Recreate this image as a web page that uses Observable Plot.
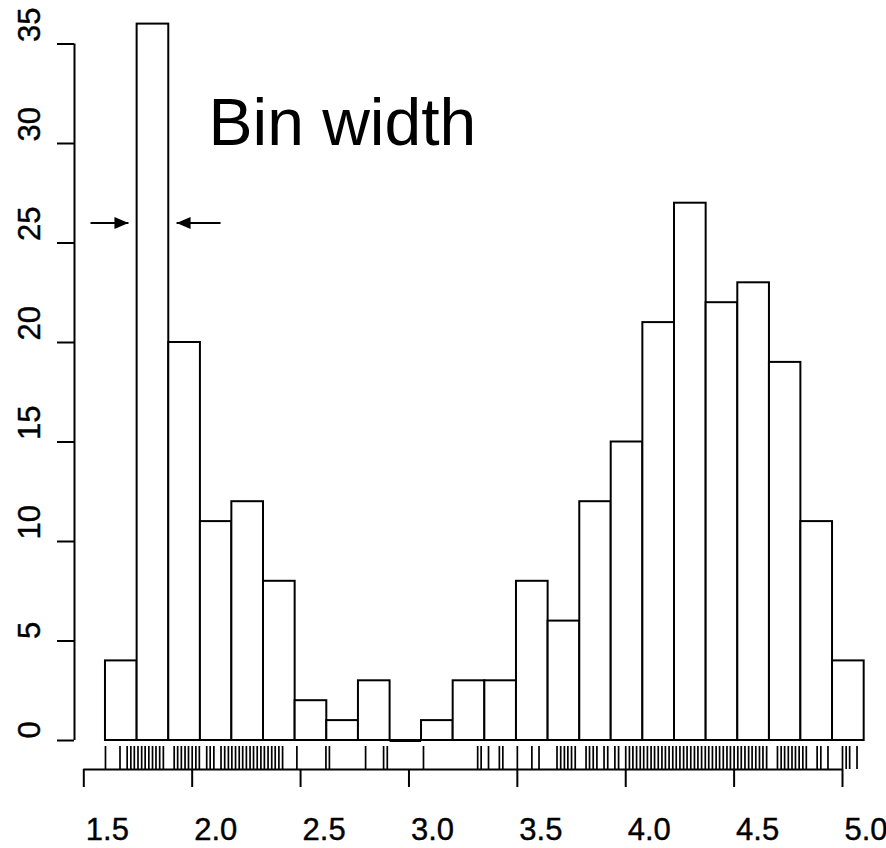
<!DOCTYPE html>
<html>
<head>
<meta charset="utf-8">
<script src="https://cdn.jsdelivr.net/npm/d3@7"></script>
<script src="https://cdn.jsdelivr.net/npm/@observablehq/plot@0.6"></script>
<style>
  html, body { margin: 0; padding: 0; background: #ffffff; }
  #chart { width: 886px; height: 848px; }
</style>
</head>
<body>
<div id="chart"></div>
<script>
// Histogram bin edges (eruption duration, minutes)
const breaks = [1.600, 1.746, 1.892, 2.038, 2.183, 2.329, 2.475, 2.621, 2.767, 2.913,
                3.058, 3.204, 3.350, 3.496, 3.642, 3.788, 3.933, 4.079, 4.225, 4.371,
                4.517, 4.663, 4.808, 4.954, 5.100];
// Frequency of each bin
const counts = [4, 36, 20, 11, 12, 8, 2, 1, 3, 0, 1, 3, 3, 8, 6, 12, 15, 21, 27, 22, 23, 19, 11, 4];

// Rug: observed eruption values (distinct values read from the rug)
const rugValues = [
  1.600, 1.667, 1.700, 1.717, 1.733, 1.750, 1.767, 1.783, 1.800, 1.817, 1.833, 1.850, 1.867,
  1.917, 1.933, 1.950, 1.967, 1.983, 2.000, 2.017, 2.033, 2.067, 2.083, 2.100,
  2.133, 2.150, 2.167, 2.183, 2.200, 2.217, 2.233, 2.250, 2.267, 2.283, 2.300, 2.317,
  2.333, 2.350, 2.367, 2.383, 2.400, 2.417, 2.483, 2.617, 2.633, 2.800, 2.883, 2.900, 3.067,
  3.317, 3.333, 3.367, 3.417, 3.433, 3.500, 3.567, 3.600, 3.683, 3.700, 3.717, 3.733, 3.750, 3.767,
  3.817, 3.833, 3.850, 3.867, 3.900, 3.917, 3.950, 3.967, 4.000,
  4.017, 4.033, 4.050, 4.067, 4.083, 4.100, 4.117, 4.133, 4.150, 4.167, 4.183, 4.200,
  4.217, 4.233, 4.250, 4.267, 4.283, 4.300, 4.317, 4.333, 4.350, 4.367, 4.383, 4.400,
  4.417, 4.433, 4.450, 4.467, 4.483, 4.500, 4.517, 4.533, 4.550, 4.567, 4.583, 4.600,
  4.617, 4.633, 4.650, 4.700, 4.717, 4.733, 4.750, 4.767, 4.783, 4.800, 4.817, 4.833,
  4.883, 4.900, 4.933, 5.000, 5.017, 5.033, 5.067
];

// Axis tick values
const xTicks = [1.5, 2.0, 2.5, 3.0, 3.5, 4.0, 4.5, 5.0];
const yTicks = [0, 5, 10, 15, 20, 25, 30, 35];

// Annotation
const annotationText = [{x: 2.075, y: 31, label: "Bin width"}];
const arrows = [
  {x1: 1.531, x2: 1.706, y: 26, dir: 90},
  {x1: 2.131, x2: 1.928, y: 26, dir: -90}
];

const bins = counts.map((c, i) => ({x1: breaks[i], x2: breaks[i + 1], count: c}));

// filled arrowhead with its tip at the origin, pointing up
const arrowHead = {
  draw(context) {
    context.moveTo(0, 0);
    context.lineTo(6, 14);
    context.lineTo(-6, 14);
    context.closePath();
  }
};

const FONT = "'Liberation Sans', Arial, Helvetica, sans-serif";
const LW = 2;

const chart = Plot.plot({
  width: 886,
  height: 848,
  marginLeft: 83.3,
  marginRight: 44,
  marginTop: 43.5,
  marginBottom: 108,
  style: {background: "#ffffff", fontFamily: FONT, color: "#000000", overflow: "visible"},
  x: {domain: [xTicks[0], xTicks[xTicks.length - 1]]},
  y: {domain: [yTicks[0], yTicks[yTicks.length - 1]]},
  marks: [
    // bars
    Plot.rectY(bins, {x1: "x1", x2: "x2", y1: 0, y2: "count", fill: "#ffffff", stroke: "#000000", strokeWidth: LW}),
    Plot.ruleY(bins.filter(d => d.count === 0), {x1: "x1", x2: "x2", y: 0, stroke: "#000000", strokeWidth: 3}),
    // rug
    Plot.axisX({ticks: rugValues, tickSize: -23, dy: 29, fill: "none", stroke: "#000000", strokeWidth: 1.7, label: null}),
    // x axis
    Plot.ruleY([0], {x1: xTicks[0], x2: xTicks[xTicks.length - 1], dy: 29, stroke: "#000000", strokeWidth: LW}),
    Plot.axisX({ticks: xTicks, tickSize: 18, dy: 29, fill: "none", stroke: "#000000", strokeWidth: LW, label: null}),
    Plot.text(xTicks, {x: d => d, y: 0, text: d => d.toFixed(1), dy: 90, dx: 2, textAnchor: "start", lineAnchor: "middle", fontSize: 31, fill: "#000000", stroke: "#000000", strokeWidth: 0.4}),
    // y axis
    Plot.ruleX([xTicks[0]], {y1: yTicks[0], y2: yTicks[yTicks.length - 1], dx: -9.3, stroke: "#000000", strokeWidth: LW}),
    Plot.axisY({ticks: yTicks, tickSize: 17, dx: -9.3, fill: "none", stroke: "#000000", strokeWidth: LW, label: null}),
    Plot.text(yTicks, {x: xTicks[0], y: d => d, text: d => String(d), rotate: -90, dx: -54, dy: -2, textAnchor: "start", lineAnchor: "middle", fontSize: 31, fill: "#000000", stroke: "#000000", strokeWidth: 0.4}),
    // annotation
    Plot.text(annotationText, {x: "x", y: "y", text: "label", textAnchor: "start", lineAnchor: "middle", fontSize: 66, fill: "#000000"}),
    Plot.link(arrows, {x1: "x1", x2: "x2", y1: "y", y2: "y", stroke: "#000000", strokeWidth: LW}),
    Plot.dot(arrows, {x: "x2", y: "y", symbol: arrowHead, rotate: "dir", fill: "#000000", stroke: "none", r: 5})
  ]
});

document.getElementById("chart").appendChild(chart);
</script>
</body>
</html>
